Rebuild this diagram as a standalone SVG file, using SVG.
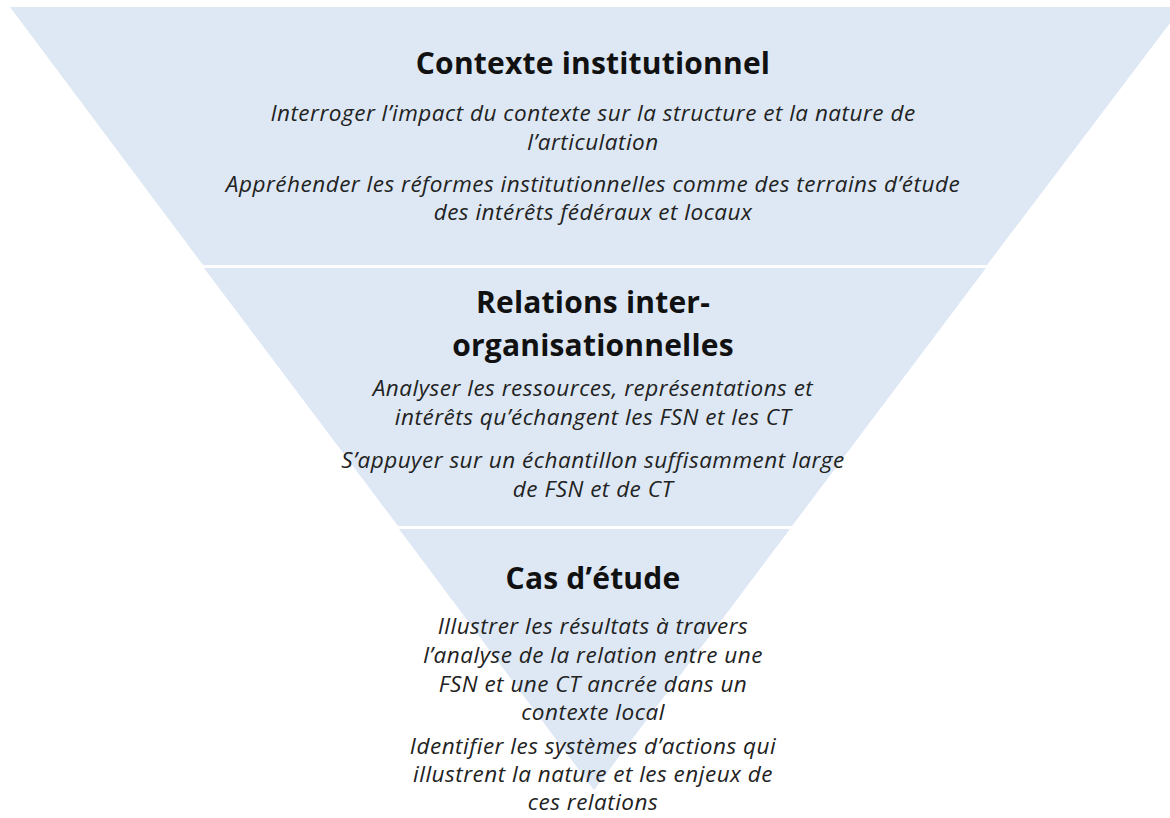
<svg xmlns="http://www.w3.org/2000/svg" width="1170" height="818" viewBox="0 0 1170 818">
<style>
.seg{fill:#dde8f4;stroke:none}
.t{font-family:"Open Sans","Liberation Sans",sans-serif;font-weight:bold;font-size:30px;letter-spacing:0.2px;fill:#111;text-anchor:middle}
.d{font-family:"Open Sans","Liberation Sans",sans-serif;font-style:italic;font-size:22.5px;letter-spacing:0.5px;fill:#222;text-anchor:middle}
</style>
<rect width="1170" height="818" fill="#fff"/>
<g id="node-contexte">
<polygon class="seg" points="10,7 1182,7 987,265 203,265"/>
<text class="t" x="593" y="74">Contexte institutionnel</text>
<text class="d" x="593" y="121">Interroger l’impact du contexte sur la structure et la nature de</text>
<text class="d" x="593" y="150">l’articulation</text>
<text class="d" x="593" y="192">Appréhender les réformes institutionnelles comme des terrains d’étude</text>
<text class="d" x="593" y="220">des intérêts fédéraux et locaux</text>
</g>
<g id="node-relations">
<polygon class="seg" points="204,268 986,268 792,526 398,526"/>
<text class="t" x="593" y="313">Relations inter-</text>
<text class="t" x="593" y="356">organisationnelles</text>
<text class="d" x="593" y="396">Analyser les ressources, représentations et</text>
<text class="d" x="593" y="425">intérêts qu’échangent les FSN et les CT</text>
<text class="d" x="593" y="468">S’appuyer sur un échantillon suffisamment large</text>
<text class="d" x="593" y="497">de FSN et de CT</text>
</g>
<g id="node-cas">
<polygon class="seg" points="399,529 790,529 594,790"/>
<text class="t" x="593" y="589">Cas d’étude</text>
<text class="d" x="593" y="634">Illustrer les résultats à travers</text>
<text class="d" x="593" y="663">l’analyse de la relation entre une</text>
<text class="d" x="593" y="692">FSN et une CT ancrée dans un</text>
<text class="d" x="593" y="720">contexte local</text>
<text class="d" x="593" y="754">Identifier les systèmes d’actions qui</text>
<text class="d" x="593" y="782">illustrent la nature et les enjeux de</text>
<text class="d" x="593" y="810">ces relations</text>
</g>
<g id="connectors"></g>
</svg>
